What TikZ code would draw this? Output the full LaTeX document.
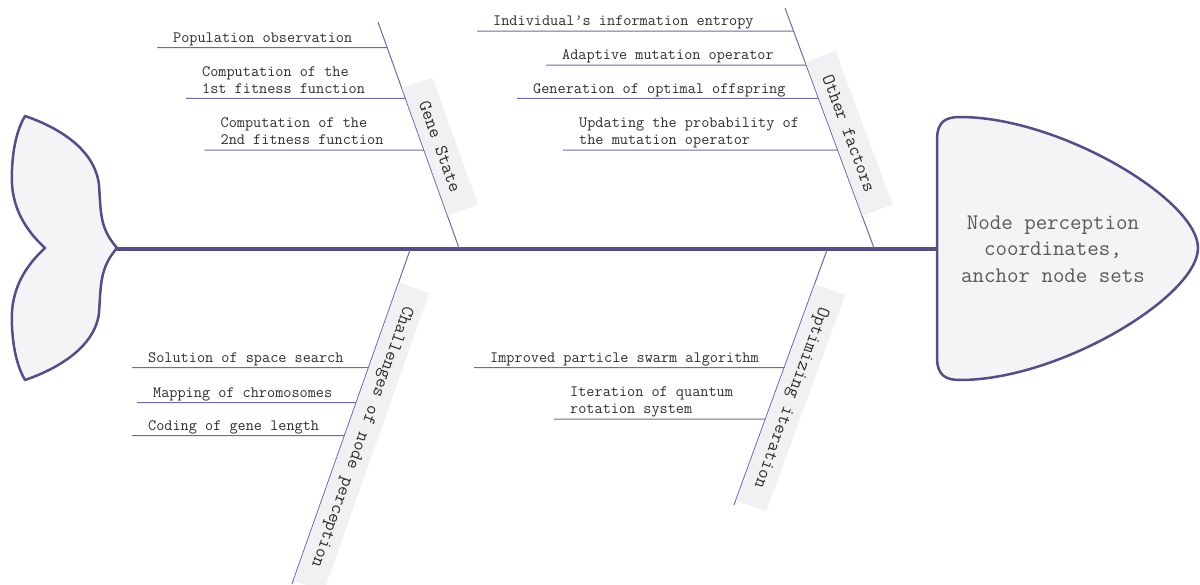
\documentclass[tikz,border=0pt]{standalone}
\usepackage{fontspec}
\usepackage{tikz}
\usetikzlibrary{calc}

\definecolor{fishline}{RGB}{84,78,132}
\definecolor{boneline}{RGB}{112,106,160}
\definecolor{fishfill}{RGB}{244,244,247}
\definecolor{boxfill}{RGB}{241,241,243}
\definecolor{labeltext}{RGB}{45,45,45}

\tikzset{
  spine/.style={draw=fishline, line width=4pt},
  bone/.style={draw=boneline, line width=1pt},
  twig/.style={draw=boneline, line width=1pt},
  cause/.style={anchor=south west, inner xsep=16pt, inner ysep=0pt, align=left,
    text=labeltext, font=\fontsize{15.8}{17}\selectfont\ttfamily,
    execute at end node=\strut},
  category/.style={sloped, allow upside down, anchor=south, fill=boxfill,
    inner xsep=20pt, minimum height=32pt, text=labeltext,
    font=\fontsize{18.5}{20}\selectfont\ttfamily},
}

\begin{document}
\begin{tikzpicture}[x=1pt, y=-1pt]

\useasboundingbox (0,0) rectangle (1200,584);

% tail
\draw[draw=fishline, fill=fishfill, line width=2.5pt, line join=round]
  (45,248) .. controls (20,225) and (10,200) .. (12,170)
  .. controls (13,145) and (18,128) .. (25,116)
  .. controls (60,128) and (95,150) .. (99,185)
  .. controls (101,215) and (100,228) .. (117,248)
  .. controls (100,268) and (101,283) .. (99,313)
  .. controls (95,346) and (60,368) .. (25,380)
  .. controls (18,368) and (13,350) .. (12,326)
  .. controls (10,296) and (20,271) .. (45,248) -- cycle;

% head
\draw[draw=fishline, fill=fishfill, line width=2.5pt]
  (937,140) .. controls (937,122) and (945,117) .. (960,117)
  .. controls (1060,117) and (1198,200) .. (1198,248)
  .. controls (1198,296) and (1060,380) .. (960,380)
  .. controls (945,380) and (937,375) .. (937,357) -- cycle;
\node[align=center, text=black!65, font=\fontsize{22.3}{26.5}\selectfont\ttfamily] (goal) at (1053,249)
  {Node perception\\coordinates,\\anchor node sets};

\coordinate (tail) at (117,248.5);
\coordinate (head) at (937,248.5);
\draw[spine] (tail) -- (head);

% bones
\coordinate (gsA) at (378,22);
\coordinate (gsB) at (459,248);
\coordinate (ofA) at (785,8);
\coordinate (ofB) at (874,248);
\coordinate (chA) at (410,250);
\coordinate (chB) at (292,584);
\coordinate (opA) at (827,250);
\coordinate (opB) at (734,505);

\draw[bone] (gsA) -- (gsB) node[category, pos=0.575] (gs) {Gene State};
\draw[bone] (ofA) -- (ofB) node[category, pos=0.546] (of) {Other factors};
\draw[bone] (chA) -- (chB) node[category, pos=0.543] (ch) {Challenges of node perception};
\draw[bone] (opA) -- (opB) node[category, pos=0.557] (op) {Optimizing iteration};

% gene state
\node[cause] (gs1) at (157,47.7) {Population observation};
\node[cause] (gs2) at (186,98.3) {Computation of the\\1st fitness function};
\node[cause] (gs3) at (204.5,150) {Computation of the\\2nd fitness function};
\draw[twig] (gs1.south west) -- (intersection of gs1.south west--gs1.south east and gsA--gsB);
\draw[twig] (gs2.south west) -- (intersection of gs2.south west--gs2.south east and gsA--gsB);
\draw[twig] (gs3.south west) -- (intersection of gs3.south west--gs3.south east and gsA--gsB);

% other factors
\node[cause] (of1) at (477,31) {Individual’s information entropy};
\node[cause] (of2) at (546,65) {Adaptive mutation operator};
\node[cause] (of3) at (517,98.3) {Generation of optimal offspring};
\node[cause] (of4) at (563,150) {Updating the probability of\\the mutation operator};
\draw[twig] (of1.south west) -- (intersection of of1.south west--of1.south east and ofA--ofB);
\draw[twig] (of2.south west) -- (intersection of of2.south west--of2.south east and ofA--ofB);
\draw[twig] (of3.south west) -- (intersection of of3.south west--of3.south east and ofA--ofB);
\draw[twig] (of4.south west) -- (intersection of of4.south west--of4.south east and ofA--ofB);

% challenges
\node[cause] (ch1) at (132,367.7) {Solution of space search};
\node[cause] (ch2) at (137,402.7) {Mapping of chromosomes};
\node[cause] (ch3) at (132,435.7) {Coding of gene length};
\draw[twig] (ch1.south west) -- (intersection of ch1.south west--ch1.south east and chA--chB);
\draw[twig] (ch2.south west) -- (intersection of ch2.south west--ch2.south east and chA--chB);
\draw[twig] (ch3.south west) -- (intersection of ch3.south west--ch3.south east and chA--chB);

% optimizing
\node[cause] (op1) at (474,367.7) {Improved particle swarm algorithm};
\node[cause] (op2) at (554,419) {Iteration of quantum\\rotation system};
\draw[twig] (op1.south west) -- (intersection of op1.south west--op1.south east and opA--opB);
\draw[twig] (op2.south west) -- (intersection of op2.south west--op2.south east and opA--opB);

\end{tikzpicture}
\end{document}
